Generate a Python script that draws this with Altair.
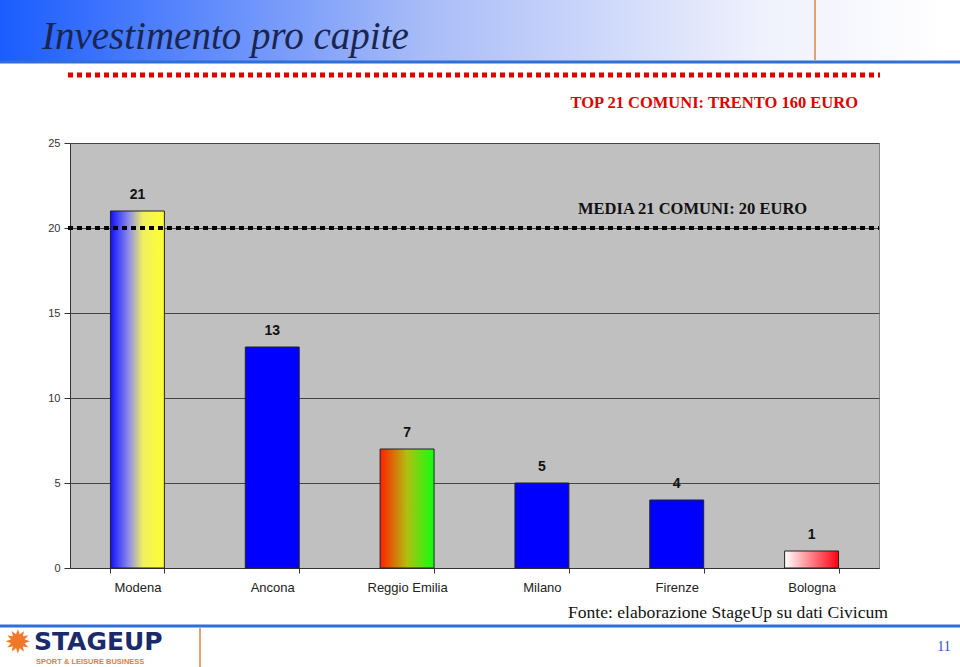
import altair as alt
import pandas as pd

cities = ["Modena", "Ancona", "Reggio Emilia", "Milano", "Firenze", "Bologna"]
values = [21, 13, 7, 5, 4, 1]
media = 20
y_ticks = [0, 5, 10, 15, 20, 25]

df = pd.DataFrame({"city": cities, "value": values})

W, H = 809, 425
PL, PT = 70, 143

def grad(stops):
    return alt.Gradient(gradient="linear", x1=0, x2=1, y1=0, y2=0,
                        stops=[alt.GradientStop(offset=o, color=c) for o, c in stops])

xenc = alt.X("city:N", sort=cities, title=None,
             scale=alt.Scale(paddingInner=0.6, paddingOuter=0.3),
             axis=alt.Axis(labelAngle=0, labelFont="Liberation Sans", labelFontSize=13,
                           labelColor="#222", tickBand="extent", tickColor="#333",
                           domainColor="#333", labelPadding=8, tickSize=5))
yenc = alt.Y("value:Q", title=None,
             scale=alt.Scale(domain=[0, 25], nice=False),
             axis=alt.Axis(values=y_ticks, labelFont="Liberation Sans", labelFontSize=11,
                           labelColor="#333", gridColor="#444", gridOpacity=1,
                           domainColor="#333", tickColor="#333", tickSize=6, labelPadding=4))

base = alt.Chart(df)

fills = {
    "Modena": grad([(0, "#1010ff"), (0.35, "#9090e8"), (0.6, "#f0f060"), (1, "#ffff30")]),
    "Ancona": "#0000ff",
    "Reggio Emilia": grad([(0, "#ff2000"), (0.5, "#b0c010"), (1, "#10ff10")]),
    "Milano": "#0000ff",
    "Firenze": "#0000ff",
    "Bologna": grad([(0, "#ffffff"), (1, "#ff0010")]),
}

bars = [
    base.transform_filter(alt.datum.city == c)
    .mark_bar(fill=f, stroke="#222", strokeWidth=1)
    .encode(x=xenc, y=yenc)
    for c, f in fills.items()
]

labels = base.mark_text(dy=-9, baseline="bottom", font="Liberation Sans",
                        fontSize=14, fontWeight="bold", color="#111").encode(
    x=alt.X("city:N", sort=cities), y="value:Q", text="value:Q")

avg = alt.Chart(pd.DataFrame({"m": [media]})).mark_rule(
    color="#000", strokeWidth=4, strokeDash=[5, 4]).encode(
    y="m:Q", x=alt.value(-2), x2=alt.value(W))

def txt(s, x, y, **kw):
    return alt.Chart(pd.DataFrame({"t": [s]})).mark_text(**kw).encode(
        text="t:N", x=alt.value(x), y=alt.value(y))

def rule(x, x2, y, y2, **kw):
    return alt.Chart(pd.DataFrame({"a": [0]})).mark_rule(**kw).encode(
        x=alt.value(x), x2=alt.value(x2), y=alt.value(y), y2=alt.value(y2))

banner = alt.Chart(pd.DataFrame({"a": [0]})).mark_rect(
    fill=alt.Gradient(gradient="linear", x1=0, x2=1, y1=0, y2=0,
                      stops=[alt.GradientStop(offset=0, color="#1a5cff"),
                             alt.GradientStop(offset=0.45, color="#a8bcf8"),
                             alt.GradientStop(offset=0.8, color="#eef0fc"),
                             alt.GradientStop(offset=1, color="#ffffff")])).encode(
    x=alt.value(-PL), x2=alt.value(945 - PL), y=alt.value(-PT), y2=alt.value(61 - PT))

deco = [
    banner,
    rule(-PL, 960 - PL, 62 - PT, 62 - PT, color="#2f6fd8", strokeWidth=3),
    rule(815 - PL, 815 - PL, -PT, 60 - PT, color="#e08040", strokeWidth=1.5),
    txt("Investimento pro capite", 42 - PL, 49 - PT, align="left", baseline="alphabetic",
        font="Liberation Serif", fontStyle="italic", fontSize=39, color="#1a2550"),
    rule(68 - PL, 880 - PL, 75 - PT, 75 - PT, color="#e00000", strokeWidth=5, strokeDash=[5, 4]),
    txt("TOP 21 COMUNI: TRENTO 160 EURO", 858 - PL, 108 - PT, align="right", baseline="alphabetic",
        font="Liberation Serif", fontWeight="bold", fontSize=16.5, color="#e00000"),
    txt("MEDIA 21 COMUNI: 20 EURO", 578 - PL, 214 - PT, align="left", baseline="alphabetic",
        font="Liberation Serif", fontWeight="bold", fontSize=16.5, color="#111"),
    txt("Fonte: elaborazione StageUp su dati Civicum", 888 - PL, 618 - PT, align="right",
        baseline="alphabetic", font="Liberation Serif", fontSize=17.6, color="#111"),
    rule(-PL, 960 - PL, 626 - PT, 626 - PT, color="#2f6fd8", strokeWidth=3),
    rule(200 - PL, 200 - PL, 628 - PT, 667 - PT, color="#e08040", strokeWidth=1.5),
    txt("11", 944 - PL, 651 - PT, align="center", baseline="alphabetic",
        font="Liberation Serif", fontSize=14, color="#3050c0"),
    txt("✹", 18 - PL, 643 - PT, align="center", baseline="middle",
        font="DejaVu Sans", fontSize=32, color="#f07828"),
    txt("STAGEUP", 34 - PL, 650 - PT, align="left", baseline="alphabetic",
        font="DejaVu Sans", fontWeight="bold", fontSize=25, color="#1a2a6a"),
    txt("SPORT & LEISURE BUSINESS", 36 - PL, 664 - PT, align="left", baseline="alphabetic",
        font="Liberation Sans", fontWeight="bold", fontSize=7.5, color="#e08040"),
]

chart = alt.layer(*bars, labels, avg, *deco).properties(
    width=W, height=H,
    autosize=alt.AutoSizeParams(type="none"),
    padding={"left": PL, "top": PT, "right": 960 - PL - W, "bottom": 667 - PT - H},
    background="white",
).configure_view(fill="#c0c0c0", stroke="#888", strokeWidth=1)

chart.save("out.html", embed_options={"renderer": "svg", "actions": False})
